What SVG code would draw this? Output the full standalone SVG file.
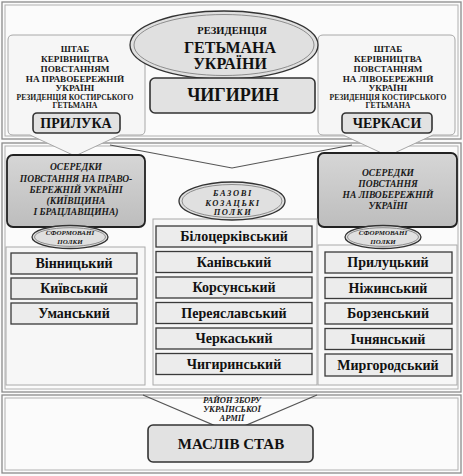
<svg xmlns="http://www.w3.org/2000/svg" width="463" height="476" viewBox="0 0 463 476">
<defs>
<style>
.frame{fill:none;stroke:#8a8a8a;stroke-width:1.3}
.frame2{fill:none;stroke:#b0b0b0;stroke-width:1}
.callout{fill:#f6f6f6;stroke:#a8a8a8;stroke-width:1}
.city{fill:#e2e2e2;stroke:#333;stroke-width:1.6}
.cityt{font-family:"Liberation Serif",serif;font-weight:bold;fill:#111;text-anchor:middle}
.hdr{font-family:"Liberation Serif",serif;font-weight:bold;font-size:9.2px;fill:#1a1a1a;text-anchor:middle}
.oser{fill:url(#g1);stroke:#222;stroke-width:1.8}
.it{font-family:"Liberation Serif",serif;font-weight:bold;font-style:italic;font-size:9.5px;fill:#1a1a1a;text-anchor:middle}
.ell{fill:#e0e0e0;stroke:#333;stroke-width:1.3}
.ellin{fill:none;stroke:#777;stroke-width:0.8}
.panel{fill:#f7f7f7;stroke:#aaa;stroke-width:1}
.item{fill:#ececec;stroke:#3a3a3a;stroke-width:1.3}
.itt{font-family:"Liberation Serif",serif;font-weight:bold;font-size:14px;fill:#111;text-anchor:middle}
.sm{font-family:"Liberation Serif",serif;font-weight:bold;font-style:italic;font-size:7px;fill:#1a1a1a;text-anchor:middle}
.conn{fill:none;stroke:#555;stroke-width:1.2}
</style>
<linearGradient id="g1" x1="0" y1="0" x2="0" y2="1">
<stop offset="0" stop-color="#d6d6d6"/>
<stop offset="1" stop-color="#bdbdbd"/>
</linearGradient>
</defs>
<rect x="0" y="0" width="463" height="476" fill="#fbfbfb"/>

<g id="frames">
<rect class="frame" x="2" y="2" width="459" height="137"/>
<rect class="frame2" x="5" y="5" width="453" height="131"/>
<rect class="frame" x="2" y="143" width="459" height="249"/>
<rect class="frame2" x="5" y="146" width="453" height="243"/>
<rect class="frame" x="2" y="395" width="459" height="78"/>
<rect class="frame2" x="5" y="398" width="453" height="72"/>
</g>

<g id="connectors">
<polyline class="conn" points="110,145 232,168 352,145"/>
<polyline class="conn" points="143,395 230,432 317,395"/>
</g>

<g id="callout-left">
<path class="callout" d="M13,35 L140,35 Q145,35 145,40 L145,130 Q145,135 140,135 L120,135 L75,156 L30,135 L13,135 Q8,135 8,130 L8,40 Q8,35 13,35 Z"/>
<text class="hdr" x="75" y="52">ШТАБ</text>
<text class="hdr" x="75" y="62">КЕРІВНИЦТВА</text>
<text class="hdr" x="75" y="72">ПОВСТАННЯМ</text>
<text class="hdr" x="75" y="81.5">НА ПРАВОБЕРЕЖНІЙ</text>
<text class="hdr" x="75" y="91">УКРАЇНІ</text>
<text class="hdr" x="75" y="99.5" style="font-size:7.6px">РЕЗИДЕНЦІЯ КОСТИРСЬКОГО</text>
<text class="hdr" x="75" y="108" style="font-size:7.8px">ГЕТЬМАНА</text>
</g>
<g id="prylouka">
<rect class="city" x="33" y="113" width="87" height="20" rx="4"/>
<text class="cityt" x="76" y="128" font-size="14">ПРИЛУКА</text>
</g>

<g id="callout-right">
<path class="callout" d="M323,35 L450,35 Q455,35 455,40 L455,130 Q455,135 450,135 L433,135 L388,156 L343,135 L323,135 Q318,135 318,130 L318,40 Q318,35 323,35 Z"/>
<text class="hdr" x="388" y="52">ШТАБ</text>
<text class="hdr" x="388" y="62">КЕРІВНИЦТВА</text>
<text class="hdr" x="388" y="72">ПОВСТАННЯМ</text>
<text class="hdr" x="388" y="81.5">НА ЛІВОБЕРЕЖНІЙ</text>
<text class="hdr" x="388" y="91">УКРАЇНІ</text>
<text class="hdr" x="388" y="99.5" style="font-size:7.6px">РЕЗИДЕНЦІЯ КОСТИРСЬКОГО</text>
<text class="hdr" x="388" y="108" style="font-size:7.8px">ГЕТЬМАНА</text>
</g>
<g id="cherkasy">
<rect class="city" x="342" y="113" width="90" height="20" rx="4"/>
<text class="cityt" x="387" y="128" font-size="14">ЧЕРКАСИ</text>
</g>

<g id="residence">
<ellipse class="ell" cx="224" cy="45" rx="94" ry="34" stroke-width="1.6"/>
<ellipse class="ellin" cx="224" cy="45" rx="90" ry="30.5"/>
<text class="cityt" x="232" y="34" font-size="10.5">РЕЗИДЕНЦІЯ</text>
<text class="cityt" x="230" y="53" font-size="16">ГЕТЬМАНА</text>
<text class="cityt" x="230" y="69" font-size="16">УКРАЇНИ</text>
</g>
<g id="chyhyryn">
<rect class="city" x="150" y="78" width="165" height="35" rx="5"/>
<text class="cityt" x="233" y="101" font-size="18">ЧИГИРИН</text>
</g>

<g id="oseredky-left">
<rect class="oser" x="7" y="155" width="138" height="72" rx="6"/>
<text class="it" x="76" y="170">ОСЕРЕДКИ</text>
<text class="it" x="76" y="182">ПОВСТАННЯ НА ПРАВО-</text>
<text class="it" x="76" y="193">БЕРЕЖНІЙ УКРАЇНІ</text>
<text class="it" x="76" y="204">(КИЇВЩИНА</text>
<text class="it" x="76" y="215">І БРАЦЛАВЩИНА)</text>
</g>
<g id="oseredky-right">
<rect class="oser" x="318" y="153" width="139" height="74" rx="6"/>
<text class="it" x="388" y="176">ОСЕРЕДКИ</text>
<text class="it" x="388" y="187">ПОВСТАННЯ</text>
<text class="it" x="388" y="198">НА ЛІВОБЕРЕЖНІЙ</text>
<text class="it" x="388" y="209">УКРАЇНІ</text>
</g>

<g id="panel-left">
<rect class="panel" x="6" y="247" width="139" height="138"/>
</g>
<g id="panel-center">
<rect class="panel" x="153" y="219" width="164" height="166"/>
</g>
<g id="panel-right">
<rect class="panel" x="318" y="245" width="139" height="140"/>
</g>

<g id="formed-left">
<ellipse class="ell" cx="70" cy="237" rx="38" ry="11.5"/>
<ellipse class="ellin" cx="70" cy="237" rx="35.5" ry="9.3"/>
<text class="sm" x="70" y="235">СФОРМОВАНІ</text>
<text class="sm" x="70" y="244">ПОЛКИ</text>
</g>
<g id="formed-right">
<ellipse class="ell" cx="383" cy="237" rx="38" ry="11.5"/>
<ellipse class="ellin" cx="383" cy="237" rx="35.5" ry="9.3"/>
<text class="sm" x="383" y="235">СФОРМОВАНІ</text>
<text class="sm" x="383" y="244">ПОЛКИ</text>
</g>
<g id="base-regiments">
<ellipse class="ell" cx="232" cy="201" rx="53" ry="19"/>
<ellipse class="ellin" cx="232" cy="201" rx="50" ry="16.5"/>
<text class="sm" x="233" y="196" style="font-size:8.5px;letter-spacing:1.6px">БАЗОВІ</text>
<text class="sm" x="233" y="206" style="font-size:8.5px;letter-spacing:1.6px">КОЗАЦЬКІ</text>
<text class="sm" x="233" y="215" style="font-size:8.5px;letter-spacing:1.6px">ПОЛКИ</text>
</g>

<g id="vinnytskyi"><rect class="item" x="11" y="253" width="126" height="21"/><text class="itt" x="74" y="268">Вінницький</text></g>
<g id="kyivskyi"><rect class="item" x="11" y="278" width="126" height="21"/><text class="itt" x="74" y="293">Київський</text></g>
<g id="umanskyi"><rect class="item" x="11" y="303" width="126" height="21"/><text class="itt" x="74" y="318">Уманський</text></g>

<g id="bilotserkivskyi"><rect class="item" x="156" y="226" width="156" height="21"/><text class="itt" x="234" y="241">Білоцерківський</text></g>
<g id="kanivskyi"><rect class="item" x="156" y="251.5" width="156" height="21"/><text class="itt" x="234" y="266.5">Канівський</text></g>
<g id="korsunskyi"><rect class="item" x="156" y="277" width="156" height="21"/><text class="itt" x="234" y="292">Корсунський</text></g>
<g id="pereiaslavskyi"><rect class="item" x="156" y="302.5" width="156" height="21"/><text class="itt" x="234" y="317.5">Переяславський</text></g>
<g id="cherkaskyi"><rect class="item" x="156" y="328" width="156" height="21"/><text class="itt" x="234" y="343">Черкаський</text></g>
<g id="chyhyrynskyi"><rect class="item" x="156" y="353.5" width="156" height="21"/><text class="itt" x="234" y="368.5">Чигиринський</text></g>

<g id="prylutskyi"><rect class="item" x="325" y="252" width="127" height="21"/><text class="itt" x="388" y="267">Прилуцький</text></g>
<g id="nizhynskyi"><rect class="item" x="325" y="277.5" width="127" height="21"/><text class="itt" x="388" y="292.5">Ніжинський</text></g>
<g id="borzenskyi"><rect class="item" x="325" y="303" width="127" height="21"/><text class="itt" x="388" y="318">Борзенський</text></g>
<g id="ichnianskyi"><rect class="item" x="325" y="328.5" width="127" height="21"/><text class="itt" x="388" y="343.5">Ічнянський</text></g>
<g id="myrhorodskyi"><rect class="item" x="325" y="354" width="127" height="22"/><text class="itt" x="388" y="369.5">Миргородський</text></g>

<g id="gathering-label">
<text class="sm" x="232" y="403" style="font-size:8.5px">РАЙОН ЗБОРУ</text>
<text class="sm" x="232" y="412" style="font-size:8.5px">УКРАЇНСЬКОЇ</text>
<text class="sm" x="232" y="421" style="font-size:8.5px">АРМІЇ</text>
</g>
<g id="masliv-stav">
<rect class="city" x="148" y="425" width="165" height="37" rx="5"/>
<text class="cityt" x="231" y="449" font-size="15">МАСЛІВ СТАВ</text>
</g>
</svg>
